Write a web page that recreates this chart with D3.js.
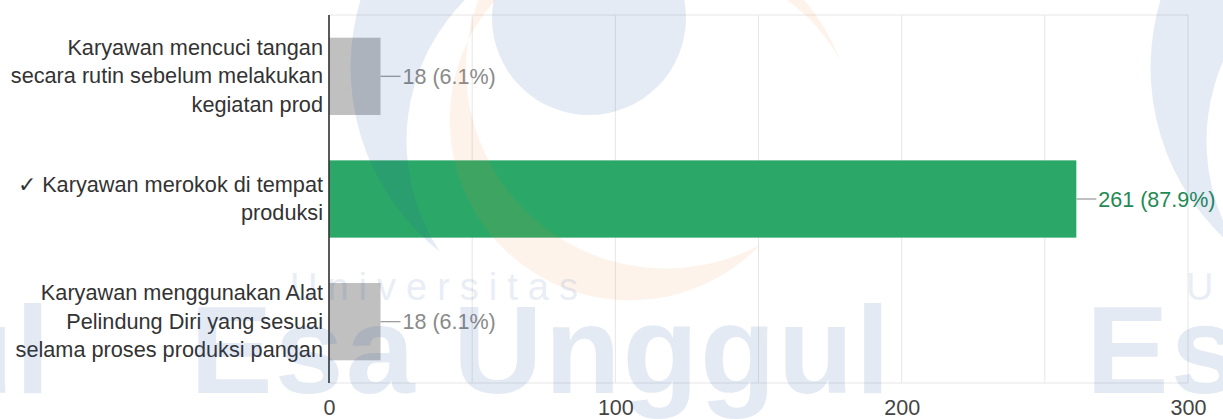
<!DOCTYPE html>
<html lang="id">

<head>
    <meta charset="UTF-8">
    <title>Pertanyaan kebersihan karyawan</title>
    <script src="https://d3js.org/d3.v7.min.js"></script>
    <style>
        body { margin: 0; background: #fff; }
        text { font-family: Arial, "Liberation Sans", sans-serif; }
    </style>
</head>

<body>
    <script>
        // answers, one entry per bar (label already broken into lines like the original)
        var labelLines = [
            ["Karyawan mencuci tangan", "secara rutin sebelum melakukan", "kegiatan prod"],
            ["\u2713 Karyawan merokok di tempat", "produksi"],
            ["Karyawan menggunakan Alat", "Pelindung Diri yang sesuai", "selama proses produksi pangan"]
        ];
        var counts = [18, 261, 18];
        var percents = ["6.1%", "87.9%", "6.1%"];
        var isCorrect = [false, true, false];
        var tickValues = [0, 100, 200, 300];
        var gridValues = [0, 50, 100, 150, 200, 250, 300];

        var w = 1223;
        var h = 419;
        // plot box (note: "top" is reserved on window, so use own names)
        var pLeft = 329, pRight = 1188, pTop = 15, pBottom = 383;

        var svg = d3.select("body").append("svg")
            .attr("width", w)
            .attr("height", h);

        var ids = d3.range(counts.length);

        var xScale = d3.scaleLinear()
            .domain([0, 300])
            .range([pLeft, pRight]);

        var yScale = d3.scaleBand()
            .domain(ids)
            .range([pTop, pBottom])
            .paddingInner(0.37)
            .paddingOuter(0.185);

        // gridlines (every 50)
        svg.append("g").selectAll("line")
            .data(gridValues)
            .enter()
            .append("line")
            .attr("x1", function (d) { return xScale(d); })
            .attr("x2", function (d) { return xScale(d); })
            .attr("y1", pTop)
            .attr("y2", pBottom)
            .attr("stroke", "#e6e6e6");

        svg.append("line")
            .attr("x1", pLeft).attr("x2", pRight)
            .attr("y1", pTop).attr("y2", pTop)
            .attr("stroke", "#e6e6e6");
        svg.append("line")
            .attr("x1", pLeft).attr("x2", pRight)
            .attr("y1", pBottom).attr("y2", pBottom)
            .attr("stroke", "#e6e6e6");

        // bars
        svg.append("g").selectAll("rect")
            .data(ids)
            .enter()
            .append("rect")
            .attr("x", xScale(0))
            .attr("y", function (i) { return yScale(i); })
            .attr("width", function (i) { return xScale(counts[i]) - xScale(0); })
            .attr("height", yScale.bandwidth())
            .attr("fill", function (i) { return isCorrect[i] ? "#2ba867" : "#c0c0c0"; });

        // connector + value labels
        var mid = function (i) { return yScale(i) + yScale.bandwidth() / 2; };

        svg.append("g").selectAll("line")
            .data(ids)
            .enter()
            .append("line")
            .attr("x1", function (i) { return xScale(counts[i]); })
            .attr("x2", function (i) { return xScale(counts[i]) + 20; })
            .attr("y1", function (i) { return mid(i); })
            .attr("y2", function (i) { return mid(i); })
            .attr("stroke", "#9e9e9e")
            .attr("stroke-width", 1.3);

        svg.append("g").selectAll("text")
            .data(ids)
            .enter()
            .append("text")
            .attr("x", function (i) { return xScale(counts[i]) + 22; })
            .attr("y", function (i) { return mid(i) + 7.5; })
            .attr("font-size", "21.5px")
            .attr("fill", function (i) { return isCorrect[i] ? "#1f8a54" : "#8a8a8a"; })
            .text(function (i) { return counts[i] + " (" + percents[i] + ")"; });

        // category labels, right aligned against the axis
        var lineH = 28.5;
        var cat = svg.append("g").selectAll("text")
            .data(ids)
            .enter()
            .append("text")
            .attr("text-anchor", "end")
            .attr("font-size", "21.7px")
            .attr("fill", "#333");

        cat.each(function (i) {
            var lines = labelLines[i];
            var t = d3.select(this);
            lines.forEach(function (s, k) {
                t.append("tspan")
                    .attr("x", pLeft - 6)
                    .attr("y", mid(i) + 7 + (k - (lines.length - 1) / 2) * lineH)
                    .text(s);
            });
        });

        // bottom axis, labels only
        var xAxis = d3.axisBottom(xScale)
            .tickValues(tickValues)
            .tickSize(0)
            .tickPadding(17);

        var ax = svg.append("g")
            .attr("transform", "translate(0," + pBottom + ")")
            .call(xAxis);
        ax.select(".domain").remove();
        ax.selectAll("text")
            .attr("font-size", "21.5px")
            .attr("font-family", "Arial, 'Liberation Sans', sans-serif")
            .attr("fill", "#444");

        // baseline (left axis)
        svg.append("line")
            .attr("x1", pLeft).attr("x2", pLeft)
            .attr("y1", pTop).attr("y2", pBottom)
            .attr("stroke", "#333")
            .attr("stroke-width", 1.6);

        // faint university watermark lying over the picture
        var wm = svg.append("g")
            .attr("pointer-events", "none");

        [0, 800].forEach(function (dx) {
            var g = wm.append("g").attr("transform", "translate(" + dx + ",0)");
            g.append("circle")
                .attr("cx", 589).attr("cy", 18).attr("r", 97)
                .attr("fill", "rgb(40,90,170)").attr("opacity", 0.12);
            g.append("path")
                .attr("d", "M 362,-5 A 235 235 0 0 0 440,252 A 200 200 0 0 1 470,-5 Z")
                .attr("fill", "rgb(40,90,170)").attr("opacity", 0.12);
            g.append("path")
                .attr("d", "M 480,-5 A 200 200 0 0 0 760,245 A 180 180 0 0 1 500,-5 Z")
                .attr("fill", "rgb(240,140,60)").attr("opacity", 0.1);
            g.append("path")
                .attr("d", "M 800,-5 A 210 210 0 0 1 840,60 A 190 190 0 0 0 780,-5 Z")
                .attr("fill", "rgb(240,140,60)").attr("opacity", 0.1);
        });

        [-650, 190, 1086].forEach(function (x0) {
            wm.append("text")
                .attr("x", x0)
                .attr("y", 393)
                .attr("font-size", "124px")
                .attr("font-weight", "bold")
                .attr("letter-spacing", "2px")
                .attr("fill", "rgb(40,90,170)")
                .attr("opacity", 0.12)
                .text("Esa Unggul");
            wm.append("text")
                .attr("x", x0 + 100)
                .attr("y", 300)
                .attr("font-size", "38px")
                .attr("font-family", "Lato, Roboto, sans-serif")
                .attr("font-weight", 300)
                .attr("letter-spacing", "10px")
                .attr("fill", "rgb(40,90,170)")
                .attr("opacity", 0.1)
                .text("Universitas");
        });
    </script>
</body>

</html>
